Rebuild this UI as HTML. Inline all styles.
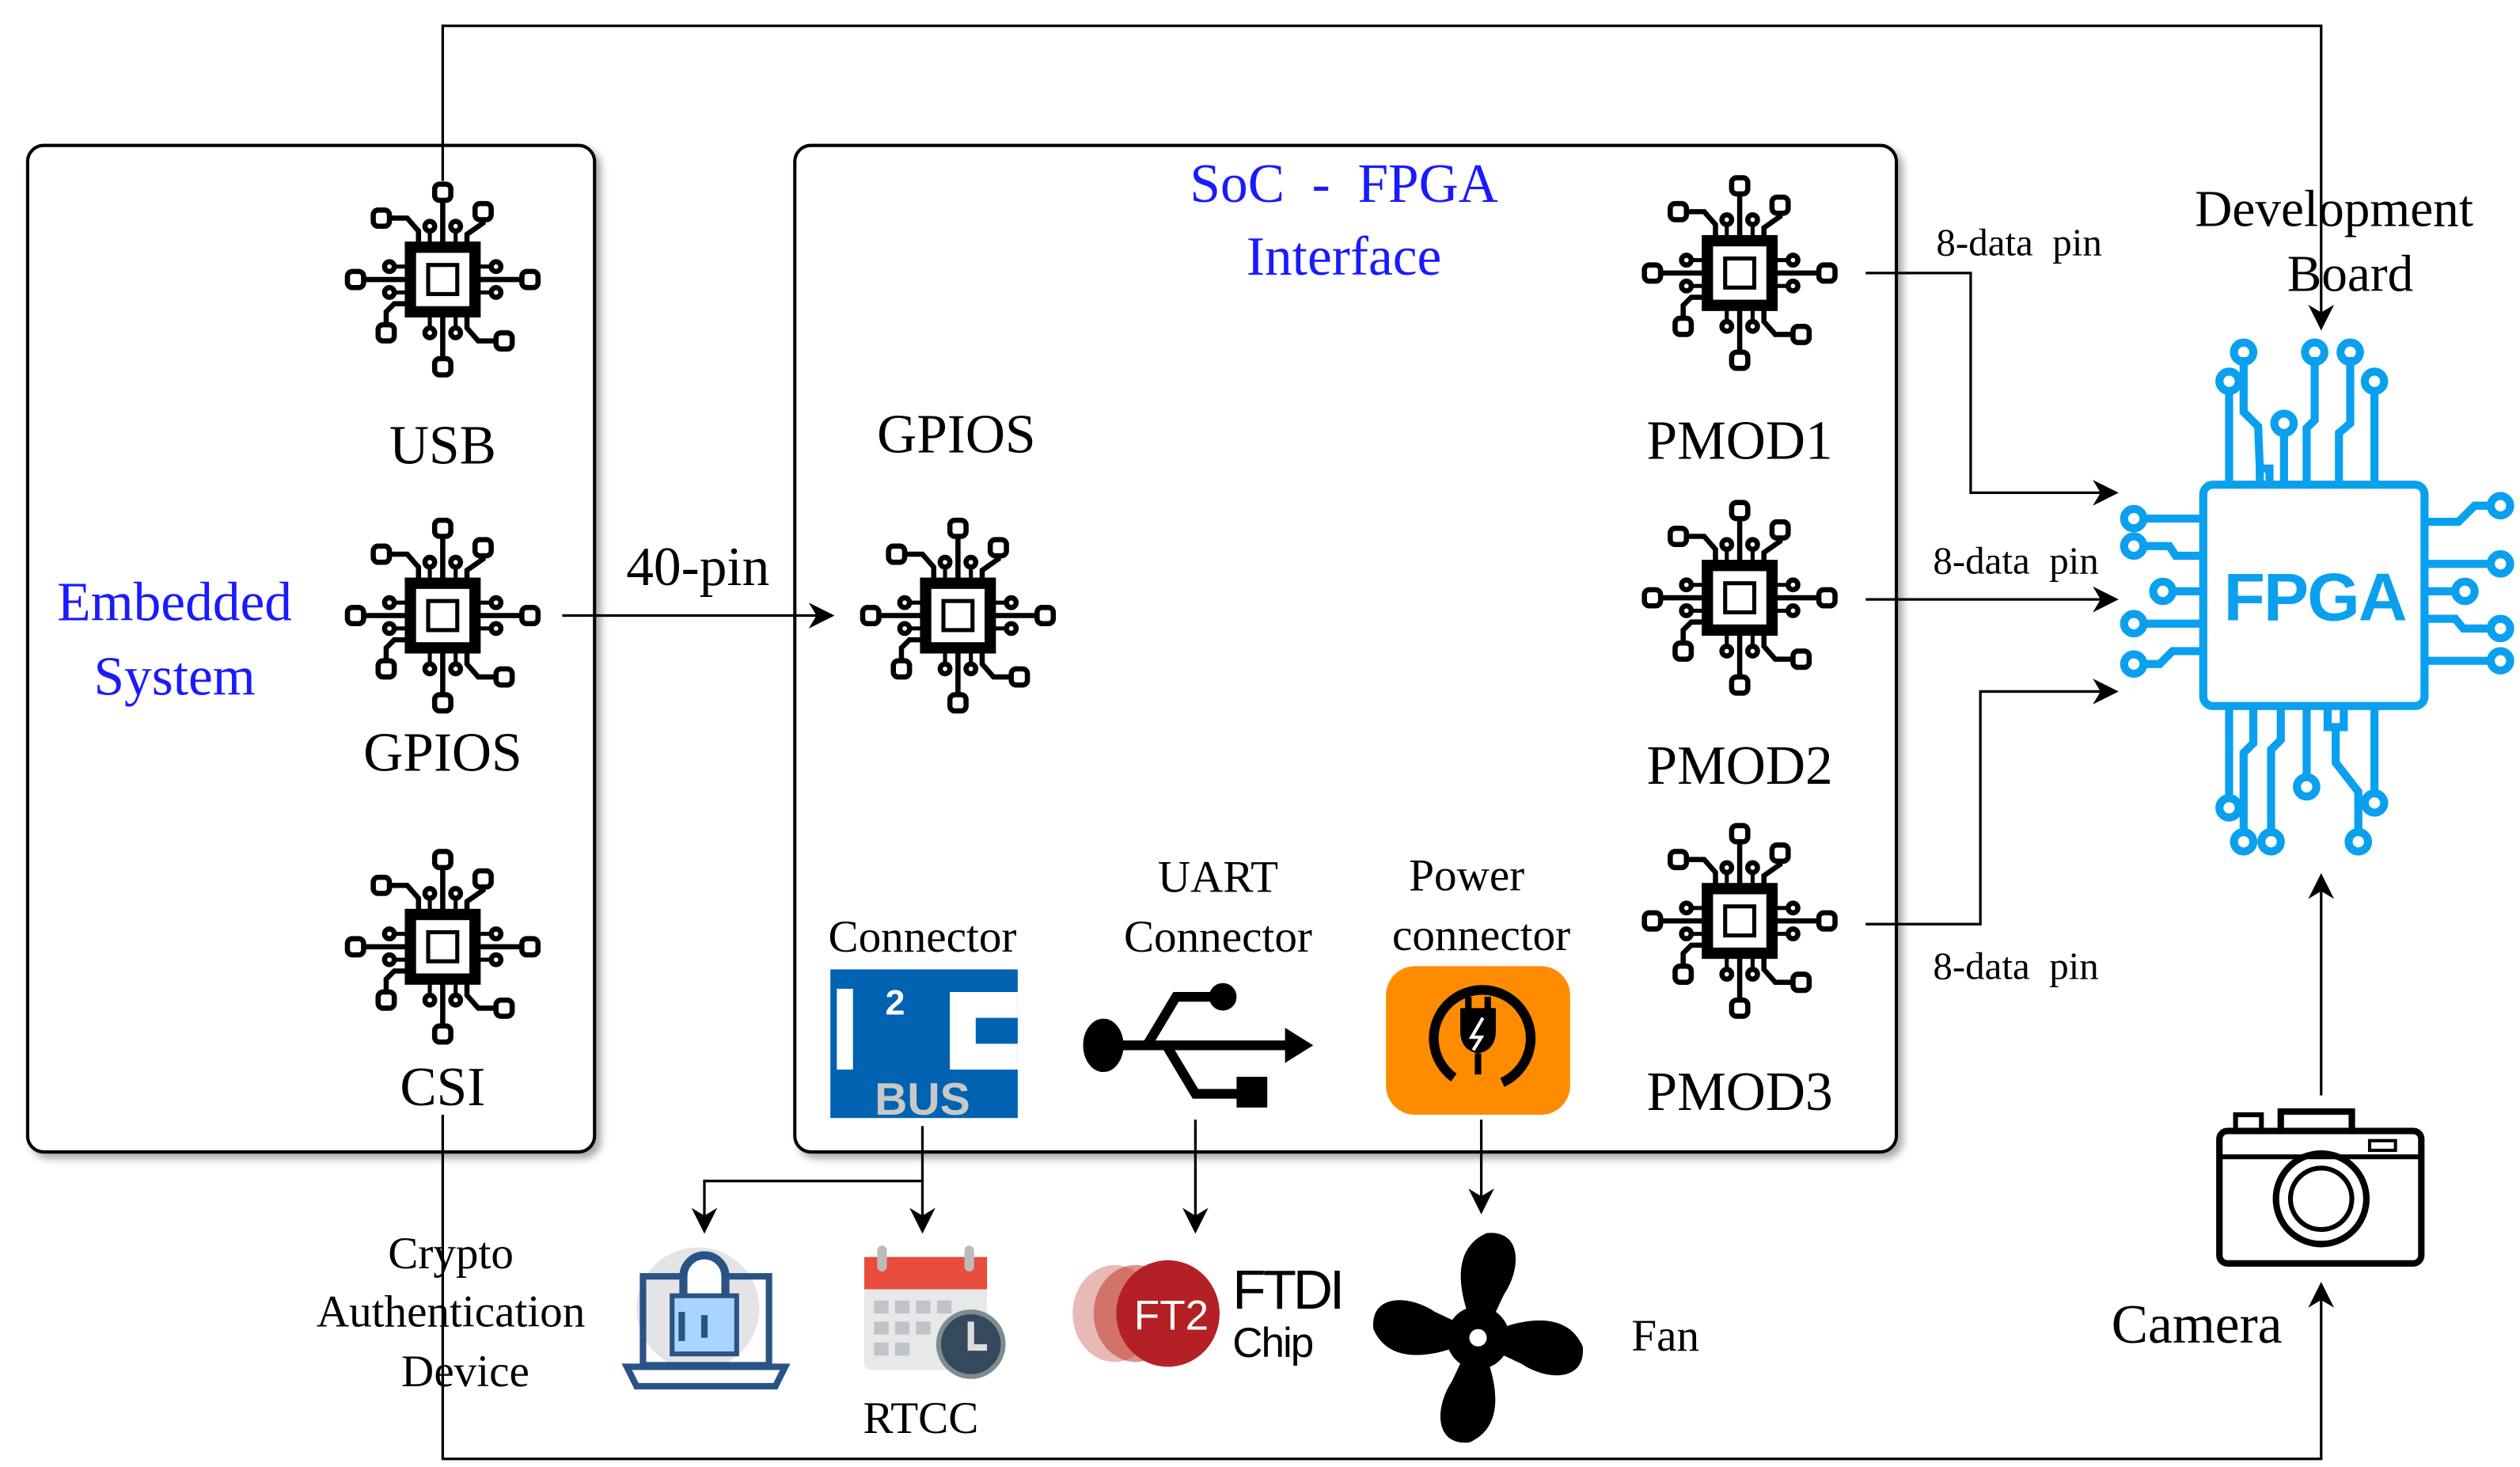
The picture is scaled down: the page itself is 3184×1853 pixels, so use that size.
<!DOCTYPE html>
<html><head><meta charset="utf-8"><style>
html,body{margin:0;padding:0;background:#fff}
svg{display:block}
text{font-family:"Liberation Serif",serif}
</style></head><body>
<svg width="3184" height="1853" viewBox="0 0 1560 908" xmlns="http://www.w3.org/2000/svg">
<defs>
<marker id="ah2" viewBox="0 0 10 10" refX="9" refY="5" markerWidth="20" markerHeight="16" orient="auto" markerUnits="userSpaceOnUse">
<path d="M0,0 L10,5 L0,10 L3,5 z" fill="#000"/></marker>
<filter id="sh" x="-5%" y="-5%" width="110%" height="110%"><feDropShadow dx="3" dy="3" stdDeviation="2.5" flood-color="#000" flood-opacity="0.35"/></filter>
<g id="chip" fill="none" stroke="#000" stroke-width="3.2">
<rect x="-20" y="-20" width="40" height="40" fill="#fff" stroke-width="7"/>
<rect x="-9" y="-9" width="18" height="18" stroke-width="2.5"/>
<path d="M0,-23V-48M0,23V48M-23,0H-48M23,0H48"/>
<rect x="-5" y="-59" width="10" height="10" rx="3"/><rect x="-5" y="49" width="10" height="10" rx="3"/>
<rect x="-59" y="-5" width="10" height="10" rx="3"/><rect x="49" y="-5" width="10" height="10" rx="3"/>
<path d="M-15,-23V-30L-22,-38H-33M15,-23V-28L25,-35V-38M-23,15H-30L-35,20V28M15,23V30L22,38H33"/>
<rect x="-43" y="-43" width="10" height="10" rx="3"/><rect x="20" y="-47" width="10" height="10" rx="3"/>
<rect x="-40" y="28" width="10" height="10" rx="3"/><rect x="33" y="33" width="10" height="10" rx="3"/>
<path d="M-8,-23V-30M8,-23V-30M-8,23V30M8,23V30M-23,-8H-30M23,-8H30M-23,8H-30M23,8H30" stroke-width="2.5"/>
<circle cx="-8" cy="-33" r="3"/><circle cx="8" cy="-33" r="3"/><circle cx="-8" cy="33" r="3"/><circle cx="8" cy="33" r="3"/>
<circle cx="-33" cy="-8" r="3"/><circle cx="33" cy="-8" r="3"/><circle cx="-33" cy="8" r="3"/><circle cx="33" cy="8" r="3"/>
</g>
</defs>

<rect x="17" y="90" width="351" height="623" rx="10" fill="#fff" stroke="#000" stroke-width="2" filter="url(#sh)"/>
<rect x="492" y="90" width="682" height="623" rx="10" fill="#fff" stroke="#000" stroke-width="2" filter="url(#sh)"/>

<path d="M274,112V16H1437V203" fill="none" stroke="#000" stroke-width="1.6" marker-end="url(#ah2)"/>
<path d="M274,690V903H1437V795" fill="none" stroke="#000" stroke-width="1.6" marker-end="url(#ah2)"/>
<path d="M1437,678V542" fill="none" stroke="#000" stroke-width="1.6" marker-end="url(#ah2)"/>

<use href="#chip" x="274" y="173"/>
<use href="#chip" x="274" y="381"/>
<use href="#chip" x="274" y="586"/>
<use href="#chip" x="593" y="381"/>
<use href="#chip" x="1077" y="169"/>
<use href="#chip" x="1077" y="370"/>
<use href="#chip" x="1077" y="570"/>

<g font-size="34" text-anchor="middle" fill="#000">
<text x="274" y="287">USB</text>
<text x="274" y="477">GPIOS</text>
<text x="274" y="684">CSI</text>
<text x="592" y="280">GPIOS</text>
<text x="1077" y="284">PMOD1</text>
<text x="1077" y="485">PMOD2</text>
<text x="1077" y="687">PMOD3</text>
<text x="432" y="362">40-pin</text>
<text x="1445" y="140" font-size="32">Development</text>
<text x="1455" y="180" font-size="32">Board</text>
<text x="1360" y="831" font-size="34">Camera</text>
</g>
<g font-size="34" text-anchor="middle" fill="#1a1aff">
<text x="108" y="384">Embedded</text>
<text x="108" y="430">System</text>
<text x="832" y="125" xml:space="preserve">SoC  -  FPGA</text>
<text x="832" y="170">Interface</text>
</g>
<g font-size="24" text-anchor="middle" fill="#000">
<text x="1250" y="158" xml:space="preserve">8-data  pin</text>
<text x="1248" y="355" xml:space="preserve">8-data  pin</text>
<text x="1248" y="606" xml:space="preserve">8-data  pin</text>
</g>
<g font-size="28" text-anchor="middle" fill="#000">
<text x="571" y="589">Connector</text>
<text x="754" y="552">UART</text>
<text x="754" y="589">Connector</text>
<text x="908" y="551">Power</text>
<text x="917" y="588">connector</text>
<text x="279" y="785">Crypto</text>
<text x="279" y="821">Authentication</text>
<text x="288" y="858">Device</text>
<text x="570" y="887">RTCC</text>
</g>
<text x="1010" y="836" font-size="28">Fan</text>

<g fill="none" stroke="#000" stroke-width="1.6">
<path d="M348,381H515" marker-end="url(#ah2)"/>
<path d="M1155,169H1220V305H1310" marker-end="url(#ah2)"/>
<path d="M1155,371H1310" marker-end="url(#ah2)"/>
<path d="M1155,572H1226V428H1310" marker-end="url(#ah2)"/>
<path d="M571,697V762" marker-end="url(#ah2)"/>
<path d="M571,731H436V762" marker-end="url(#ah2)"/>
<path d="M740,693V762" marker-end="url(#ah2)"/>
<path d="M917,693V750" marker-end="url(#ah2)"/>
</g>

<g fill="none" stroke="#0aa0ee" stroke-width="5">
<rect x="1364" y="300" width="137" height="137" rx="6"/>
<path d="M1380,300V243M1399,300V290H1405V300M1414,300V270M1428,300V265L1433,260V221M1448,300V268L1455,262V221M1470,300V243"/>
<path d="M1399,290L1398,264L1389,255V221"/>
<circle cx="1380" cy="236" r="6"/><circle cx="1389" cy="218" r="6"/><circle cx="1414" cy="262" r="6"/><circle cx="1433" cy="218" r="6"/><circle cx="1455" cy="218" r="6"/><circle cx="1470" cy="236" r="6"/>
<path d="M1380,437V493M1395,437V460L1389,466V515M1412,437V458L1406,464V515M1428,437V480M1441,437V450H1451V437M1446,450V472L1460,490V515M1470,437V490"/>
<circle cx="1380" cy="500" r="6"/><circle cx="1389" cy="521" r="6"/><circle cx="1406" cy="521" r="6"/><circle cx="1428" cy="487" r="6"/><circle cx="1460" cy="521" r="6"/><circle cx="1470" cy="497" r="6"/>
<path d="M1364,321H1327M1364,344H1347L1343,338H1327M1364,366H1345M1364,386H1327M1364,403H1345L1337,411H1327"/>
<circle cx="1321" cy="321" r="6"/><circle cx="1321" cy="338" r="6"/><circle cx="1339" cy="366" r="6"/><circle cx="1321" cy="386" r="6"/><circle cx="1321" cy="411" r="6"/>
<path d="M1501,323H1522L1532,313H1542M1501,349H1542M1501,366H1520M1501,383H1520L1525,389H1542M1501,409H1542"/>
<circle cx="1548" cy="313" r="6"/><circle cx="1548" cy="349" r="6"/><circle cx="1526" cy="366" r="6"/><circle cx="1548" cy="389" r="6"/><circle cx="1548" cy="409" r="6"/>
</g>
<text x="1433" y="384" font-size="42" font-weight="bold" text-anchor="middle" fill="#0aa0ee" style="font-family:'Liberation Sans',sans-serif;letter-spacing:-1px">FPGA</text>

<rect x="514" y="600" width="116" height="92" fill="#0062b0"/>
<rect x="518" y="612" width="10" height="50" fill="#fff"/>
<text x="548" y="628" font-size="22" fill="#fff" font-weight="bold" style="font-family:'Liberation Sans',sans-serif">2</text>
<path d="M630,614H588V662H630V646H604V630H630z" fill="#fff"/>
<text x="571" y="690" font-size="28" font-weight="bold" text-anchor="middle" fill="#c8c8c8" style="font-family:'Liberation Sans',sans-serif">BUS</text>

<g stroke="#000" fill="#000">
<ellipse cx="683" cy="647" rx="12" ry="16"/>
<path d="M690,647H800" stroke-width="6"/>
<path d="M796,637L812,647L796,657z"/>
<path d="M710,647L728,617H752" fill="none" stroke-width="6"/>
<circle cx="757" cy="617" r="8"/>
<path d="M722,647L740,677H770" fill="none" stroke-width="6"/>
<rect x="766" y="667" width="18" height="18"/>
</g>

<rect x="858" y="598" width="114" height="92" rx="18" fill="#ff8c00"/>
<path d="M900,667A30,30 0 1 1 930,670" fill="none" stroke="#000" stroke-width="6"/>
<path d="M904,624H926V638Q926,650 915,652Q904,650 904,638z" fill="#000"/>
<path d="M909,617V625M921,617V625" stroke="#000" stroke-width="4"/>
<path d="M915,652V665" stroke="#000" stroke-width="4"/>
<path d="M918,630L911,642H917L912,650" fill="none" stroke="#fff" stroke-width="2"/>

<circle cx="432" cy="810" r="38" fill="#e4e4e6"/>
<rect x="398" y="790" width="78" height="55" fill="none" stroke="#2a5385" stroke-width="4"/>
<path d="M388,846H486L480,858H394z" fill="#fff" stroke="#2a5385" stroke-width="4"/>
<path d="M423,802V790A13,13 0 0 1 449,790V802" fill="#fff" stroke="#2a5385" stroke-width="5"/>
<rect x="416" y="802" width="40" height="36" fill="#a8d4ff" stroke="#2a5385" stroke-width="3"/>
<path d="M436,814V828M422,812V830" stroke="#2a5385" stroke-width="4"/>

<rect x="535" y="778" width="76" height="70" rx="4" fill="#e6e8ea"/>
<rect x="535" y="778" width="76" height="20" fill="#e74c3c"/>
<rect x="543" y="771" width="6" height="16" rx="3" fill="#bbb"/><rect x="597" y="771" width="6" height="16" rx="3" fill="#bbb"/>
<g fill="#c0c4c8">
<rect x="541" y="805" width="9" height="8"/><rect x="554" y="805" width="9" height="8"/><rect x="567" y="805" width="9" height="8"/><rect x="580" y="805" width="9" height="8"/>
<rect x="541" y="818" width="9" height="8"/><rect x="554" y="818" width="9" height="8"/><rect x="567" y="818" width="9" height="8"/>
<rect x="541" y="831" width="9" height="8"/><rect x="554" y="831" width="9" height="8"/></g>
<circle cx="601" cy="832" r="20" fill="#34495e" stroke="#7f8c8d" stroke-width="3"/>
<path d="M601,818V834H611" fill="none" stroke="#ddd" stroke-width="4"/>

<g fill="#c0392b">
<ellipse cx="690" cy="813" rx="26" ry="30" opacity="0.35"/>
<ellipse cx="703" cy="813" rx="26" ry="30" opacity="0.55"/>
<ellipse cx="723" cy="813" rx="32" ry="33" fill="#b52025"/></g>
<text x="702" y="823" font-size="26" fill="#fff" style="font-family:'Liberation Sans',sans-serif">FT2</text>
<text x="763" y="810" font-size="34" fill="#000" style="font-family:'Liberation Sans',sans-serif;letter-spacing:-2px">FTDI</text>
<text x="763" y="840" font-size="26" fill="#000" style="font-family:'Liberation Sans',sans-serif;letter-spacing:-1px">Chip</text>

<g fill="#000" transform="translate(915,828) scale(1.08)">
<path d="M0,0C-10,-20 -18,-50 5,-60C25,-62 25,-40 15,-25C10,-15 8,-8 0,0z"/>
<path d="M0,0C-10,-20 -18,-50 5,-60C25,-62 25,-40 15,-25C10,-15 8,-8 0,0z" transform="rotate(90)"/>
<path d="M0,0C-10,-20 -18,-50 5,-60C25,-62 25,-40 15,-25C10,-15 8,-8 0,0z" transform="rotate(180)"/>
<path d="M0,0C-10,-20 -18,-50 5,-60C25,-62 25,-40 15,-25C10,-15 8,-8 0,0z" transform="rotate(270)"/>
<circle r="18"/><circle r="5" fill="#fff"/></g>

<g fill="none" stroke="#000" stroke-width="4">
<rect x="1374" y="700" width="125" height="82" rx="5"/>
<path d="M1412,700V688H1456V700"/>
<path d="M1384,700V690H1400V700" stroke-width="3"/>
<path d="M1374,716H1499" stroke-width="3"/>
<circle cx="1437" cy="742" r="28"/><circle cx="1437" cy="742" r="19" stroke-width="3"/>
<rect x="1467" y="706" width="16" height="6" stroke-width="2"/>
</g>
</svg>
</body></html>
